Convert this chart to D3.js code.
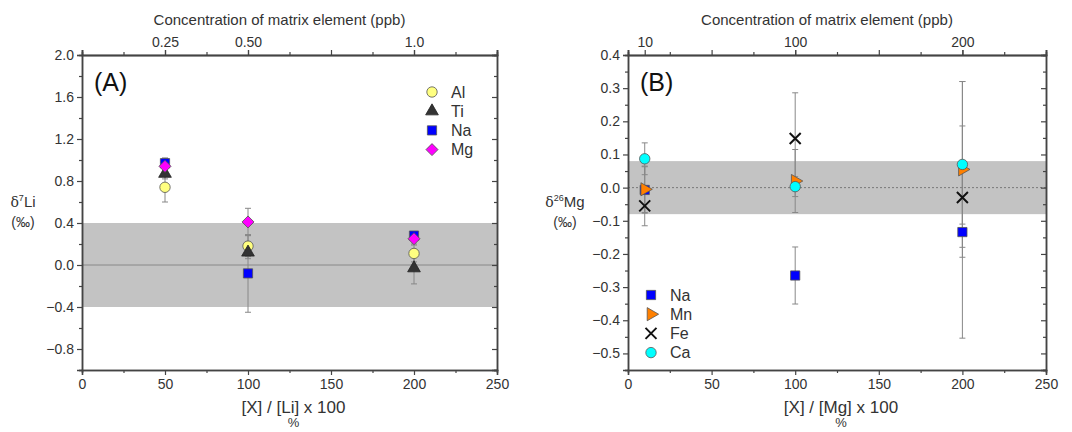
<!DOCTYPE html>
<html>
<head>
<meta charset="utf-8">
<script src="https://cdn.jsdelivr.net/npm/d3@7"></script>
<style>
  body { margin: 0; background: #fff; }
  svg { font-family: "Liberation Sans", Arial, sans-serif; }
</style>
</head>
<body>
<div id="chart"></div>
<script>
const width = 1072, height = 432;

// ---- panel A data: d7Li vs [X]/[Li]
const ratioA = [50, 100, 200];
const topLabelsA = ["0.25", "0.50", "1.0"];
const namesA = ["Al", "Ti", "Na", "Mg"];
const alVals = [0.74, 0.18, 0.11], alErr = [0.14, 0.10, 0.08];
const tiVals = [0.87, 0.12, -0.03], tiErr = [0.05, 0.06, 0.15];
const naValsA = [0.97, -0.08, 0.28], naErrA = [0.04, 0.37, 0.03];
const mgVals = [0.94, 0.41, 0.25], mgErr = [0.08, 0.13, 0.05];
const bandA = [-0.4, 0.4];

// ---- panel B data: d26Mg vs [X]/[Mg]
const ratioB = [10, 100, 200];
const topLabelsB = ["10", "100", "200"];
const namesB = ["Na", "Mn", "Fe", "Ca"];
const naValsB = [-0.007, -0.265, -0.134], naErrB = [0.07, 0.086, 0.32];
const mnVals = [-0.005, 0.02, 0.055], mnErr = [0.07, 0.095, 0.265];
const feVals = [-0.055, 0.148, -0.03], feErr = [0.06, 0.138, 0.08];
const caVals = [0.087, 0.003, 0.07], caErr = [0.048, 0.03, 0.25];
const bandB = [-0.08, 0.08];

const svg = d3.select("#chart").append("svg")
    .attr("width", width)
    .attr("height", height);

const textCol = "#333";

function marker(g, type, fill, x, y) {
    if (type == "cross") {
        const s = 5.5;
        g.append("path")
            .attr("d", `M${x - s},${y - s}L${x + s},${y + s}M${x - s},${y + s}L${x + s},${y - s}`)
            .attr("stroke", "#111").attr("stroke-width", 2).attr("fill", "none");
        return;
    }
    let sym, size, rot = 0;
    if (type == "circle") { sym = d3.symbolCircle; size = 85; }
    if (type == "square") { sym = d3.symbolSquare; size = 85; }
    if (type == "triangle") { sym = d3.symbolTriangle; size = 70; }
    if (type == "right") { sym = d3.symbolTriangle; size = 75; rot = 90; }
    if (type == "diamond") { sym = d3.symbolSquare; size = 72; rot = 45; }
    g.append("path")
        .attr("d", d3.symbol(sym, size)())
        .attr("transform", `translate(${x},${y}) rotate(${rot})`)
        .attr("fill", fill)
        .attr("stroke", type == "triangle" ? "#222" : "#555")
        .attr("stroke-width", 0.8);
}

function drawPanel(cfg) {
    const x = d3.scaleLinear().domain([0, 250]).range([cfg.left, cfg.right]);
    const y = d3.scaleLinear().domain(cfg.ydom).range([370, 55]);
    const g = svg.append("g");

    // shaded band + zero line
    g.append("rect")
        .attr("x", x(0)).attr("width", x(250) - x(0))
        .attr("y", y(cfg.band[1])).attr("height", y(cfg.band[0]) - y(cfg.band[1]))
        .attr("fill", "#c3c3c3");
    g.append("line")
        .attr("x1", x(0)).attr("x2", x(250))
        .attr("y1", y(0)).attr("y2", y(0))
        .attr("stroke", cfg.dashZero ? "#777" : "#888")
        .attr("stroke-width", 1)
        .attr("stroke-dasharray", cfg.dashZero ? "2,2" : null);

    // axes
    const fmt = d3.format(".1f");
    const bottom = g.append("g").attr("transform", `translate(0,370)`)
        .call(d3.axisBottom(x).tickValues([0, 50, 100, 150, 200, 250]).tickSize(5).tickPadding(4));
    const bottomMinor = g.append("g").attr("transform", `translate(0,370)`)
        .call(d3.axisBottom(x).tickValues([25, 75, 125, 175, 225]).tickSize(3).tickFormat(""));
    const top = g.append("g").attr("transform", `translate(0,55)`)
        .call(d3.axisTop(x).tickValues([0, 50, 100, 150, 200, 250]).tickSize(5).tickFormat(""));
    const topMinor = g.append("g").attr("transform", `translate(0,55)`)
        .call(d3.axisTop(x).tickValues([25, 75, 125, 175, 225]).tickSize(3).tickFormat(""));
    const topLab = g.append("g").attr("transform", `translate(0,55)`)
        .call(d3.axisTop(x).tickValues(cfg.ratio).tickSize(5).tickPadding(3)
            .tickFormat((d, i) => cfg.topLabels[i]));
    const left = g.append("g").attr("transform", `translate(${cfg.left},0)`)
        .call(d3.axisLeft(y).tickValues(cfg.yticks).tickSize(5).tickPadding(3).tickFormat(fmt));
    const leftMinor = g.append("g").attr("transform", `translate(${cfg.left},0)`)
        .call(d3.axisLeft(y).tickValues(cfg.yminor).tickSize(3).tickFormat(""));
    const right = g.append("g").attr("transform", `translate(${cfg.right},0)`)
        .call(d3.axisLeft(y).tickValues(cfg.yticks).tickSize(5).tickFormat(""));
    const rightMinor = g.append("g").attr("transform", `translate(${cfg.right},0)`)
        .call(d3.axisLeft(y).tickValues(cfg.yminor).tickSize(3).tickFormat(""));

    [bottom, bottomMinor, top, topMinor, topLab, left, leftMinor, right, rightMinor].forEach(a => {
        a.select(".domain").attr("stroke", "#444").attr("stroke-width", 1.5);
        a.selectAll(".tick line").attr("stroke", "#444").attr("stroke-width", 1.2);
        a.selectAll("text").attr("fill", textCol).attr("font-size", 14)
            .attr("font-family", "Liberation Sans, Arial, sans-serif");
    });

    // titles
    g.append("text")
        .attr("x", (cfg.left + cfg.right) / 2 - 10).attr("y", 25)
        .attr("text-anchor", "middle").attr("font-size", 15).attr("fill", textCol)
        .text("Concentration of matrix element (ppb)");
    g.append("text")
        .attr("x", (cfg.left + cfg.right) / 2 + 4).attr("y", 413)
        .attr("text-anchor", "middle").attr("font-size", 17).attr("fill", textCol)
        .text(cfg.xlabel);
    g.append("text")
        .attr("x", (cfg.left + cfg.right) / 2 + 4).attr("y", 427)
        .attr("text-anchor", "middle").attr("font-size", 13).attr("fill", textCol)
        .text("%");
    const yl = g.append("text")
        .attr("x", cfg.ylabX).attr("y", 207)
        .attr("text-anchor", "middle").attr("font-size", 15).attr("fill", textCol);
    yl.append("tspan").attr("font-family", "DejaVu Serif, serif").attr("font-size", 14).text("δ");
    yl.append("tspan").attr("dy", -6).attr("font-size", 9).text(cfg.ysup);
    yl.append("tspan").attr("dy", 6).text(cfg.yel);
    g.append("text")
        .attr("x", cfg.ylabX).attr("y", 227)
        .attr("text-anchor", "middle").attr("font-size", 14).attr("fill", textCol)
        .text("(‰)");

    g.append("text")
        .attr("x", cfg.left + 12).attr("y", 91)
        .attr("font-size", 25).attr("fill", "#111")
        .text(cfg.tag);

    // error bars then markers
    cfg.series.forEach(s => {
        s.vals.forEach((v, i) => {
            const cx = x(cfg.ratio[i]);
            const y1 = y(v + s.err[i]), y2 = y(v - s.err[i]);
            g.append("line").attr("x1", cx).attr("x2", cx).attr("y1", y1).attr("y2", y2)
                .attr("stroke", "#888").attr("stroke-width", 1);
            [y1, y2].forEach(yy => g.append("line")
                .attr("x1", cx - 3).attr("x2", cx + 3).attr("y1", yy).attr("y2", yy)
                .attr("stroke", "#888").attr("stroke-width", 1));
        });
    });
    cfg.series.forEach(s => {
        s.vals.forEach((v, i) => marker(g, s.type, s.fill, x(cfg.ratio[i]), y(v)));
    });

    // legend
    cfg.series.forEach((s, i) => {
        const ly = cfg.legY + i * 19.2;
        marker(g, s.type, s.fill, cfg.legX, ly);
        g.append("text").attr("x", cfg.legX + 19).attr("y", ly + 5.5)
            .attr("font-size", 16).attr("fill", textCol).text(s.name);
    });
}

drawPanel({
    left: 82, right: 497, ydom: [-1.0, 2.0],
    yticks: d3.range(-8, 21, 4).map(d => d / 10),
    yminor: d3.range(-10, 21, 4).map(d => d / 10),
    band: bandA, dashZero: false,
    ratio: ratioA, topLabels: topLabelsA,
    xlabel: "[X] / [Li] x 100", ysup: "7", yel: "Li", ylabX: 23, tag: "(A)",
    legX: 432, legY: 92,
    series: [
        { name: namesA[0], type: "circle", fill: "#ffff80", vals: alVals, err: alErr },
        { name: namesA[1], type: "triangle", fill: "#333333", vals: tiVals, err: tiErr },
        { name: namesA[2], type: "square", fill: "#0000ff", vals: naValsA, err: naErrA },
        { name: namesA[3], type: "diamond", fill: "#ff00ff", vals: mgVals, err: mgErr }
    ]
});

drawPanel({
    left: 628, right: 1046, ydom: [-0.55, 0.4],
    yticks: d3.range(-5, 5, 1).map(d => d / 10),
    yminor: d3.range(-5.5, 4.5, 1).map(d => d / 10),
    band: bandB, dashZero: true,
    ratio: ratioB, topLabels: topLabelsB,
    xlabel: "[X] / [Mg] x 100", ysup: "26", yel: "Mg", ylabX: 565, tag: "(B)",
    legX: 651, legY: 295,
    series: [
        { name: namesB[0], type: "square", fill: "#0000ff", vals: naValsB, err: naErrB },
        { name: namesB[1], type: "right", fill: "#ff8000", vals: mnVals, err: mnErr },
        { name: namesB[2], type: "cross", fill: "none", vals: feVals, err: feErr },
        { name: namesB[3], type: "circle", fill: "#00ffff", vals: caVals, err: caErr }
    ]
});
</script>
</body>
</html>
